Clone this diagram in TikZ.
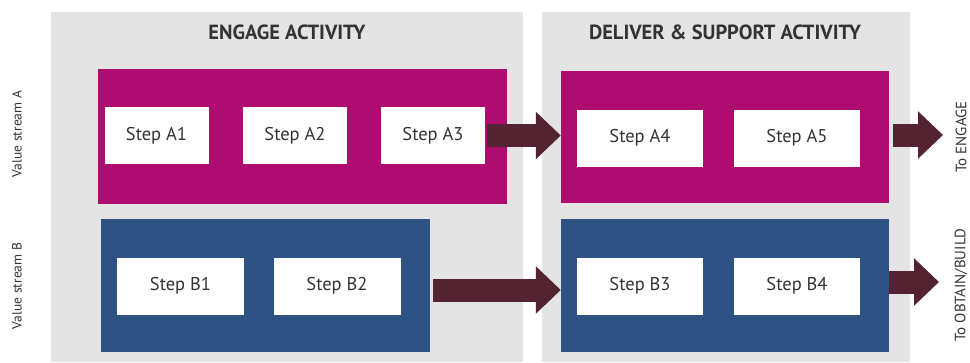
\documentclass[tikz,border=0pt]{standalone}
\usepackage{fontspec}
\setmainfont{PT Sans}
\usetikzlibrary{arrows.meta}
\usetikzlibrary{positioning}
\definecolor{panelgray}{HTML}{E4E4E4}
\definecolor{streamA}{HTML}{AE0C6E}
\definecolor{streamB}{HTML}{2E5284}
\definecolor{flowdark}{HTML}{532331}
\definecolor{labelgray}{HTML}{333333}

\begin{document}
\begin{tikzpicture}[
  x=1pt, y=-1pt,
  activity/.style = {fill=panelgray,inner sep=0pt,anchor=north west},
  title/.style = {text=labelgray,font=\bfseries\fontsize{20.5}{23}\selectfont},
  stream/.style = {inner sep=0pt,minimum height=133pt},
  stepbox/.style = {fill=white,inner sep=0pt,text=labelgray,font=\fontsize{18.5}{21}\selectfont,minimum height=57pt},
  sidelabel/.style = {rotate=90,text=labelgray,font=\fontsize{13.5}{15}\selectfont},
  flow/.style = {draw=flowdark,line width=23pt,-{Triangle[length=25pt,width=46pt]}}
  ]
	\useasboundingbox (0,0) rectangle (970,362);

	% activities
	\node[activity,minimum width=472pt,minimum height=350pt] (engage)  at (51,12)  {};
	\node[activity,minimum width=368pt,minimum height=350pt] (deliver) at (542,12) {};
	\node[title] (engagetitle)  at (287,32) {ENGAGE ACTIVITY};
	\node[title] (delivertitle) at (725,32) {DELIVER \& SUPPORT ACTIVITY};

	% value streams
	\node[stream,fill=streamA,minimum width=409pt,minimum height=135pt] (EA) at (302.5,136.5) {};
	\node[stream,fill=streamA,minimum width=328pt,minimum height=132pt] (DA) at (725,137)     {};
	\node[stream,fill=streamB,minimum width=329pt] (EB) at (265.5,285.5) {};
	\node[stream,fill=streamB,minimum width=328pt] (DB) at (725,285.5)   {};

	% steps
	\node[stepbox,minimum width=104pt] (A1) at (156.5,135.5) {Step A1};
	\node[stepbox,minimum width=104pt] (A2) at (295,135.5)   {Step A2};
	\node[stepbox,minimum width=104pt] (A3) at (433,135.5)   {Step A3};
	\node[stepbox,minimum width=126pt] (A4) at (640,138)     {Step A4};
	\node[stepbox,minimum width=126pt] (A5) at (797,138)     {Step A5};

	\node[stepbox,minimum width=127pt] (B1) at (180.5,286) {Step B1};
	\node[stepbox,minimum width=127pt] (B2) at (337,286)   {Step B2};
	\node[stepbox,minimum width=126pt] (B3) at (640,286)   {Step B3};
	\node[stepbox,minimum width=126pt] (B4) at (797,286)   {Step B4};

	% stream labels
	\node[sidelabel] (vsA) at (17,134) {Value stream A};
	\node[sidelabel] (vsB) at (17,286) {Value stream B};
	\node[sidelabel,font=\fontsize{15}{17}\selectfont] (toengage) at (961,137) {To ENGAGE};
	\node[sidelabel,font=\fontsize{15}{17}\selectfont] (tobuild)  at (961,285) {To OBTAIN/BUILD};

	\coordinate (@A) at (943,135);
	\coordinate (@B) at (939,282);

	% flows
	\draw[flow] ([xshift=2pt]A3.east) -- (A3 -| DA.west);
	\draw[flow] ([xshift=3pt,yshift=-4.5pt]EB.east) -- ([yshift=-4.5pt]DB.west);
	\draw[flow] ([xshift=4pt]DA.east |- @A) -- (@A);
	\draw[flow] (DB.east |- @B) -- (@B);

\end{tikzpicture}
\end{document}
